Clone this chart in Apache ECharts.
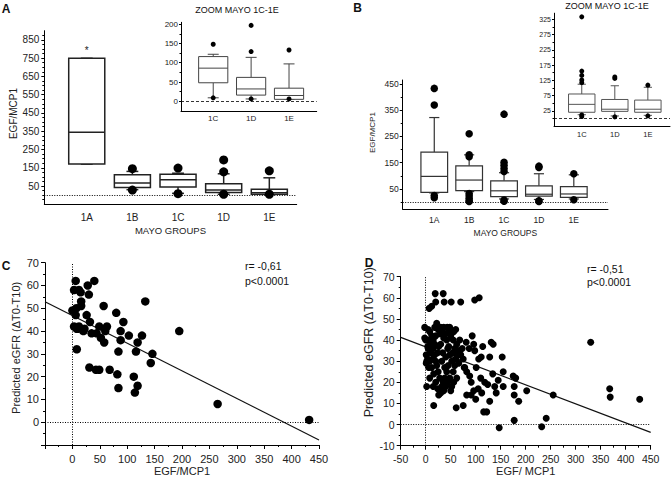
<!DOCTYPE html>
<html><head><meta charset="utf-8">
<script src="https://cdn.jsdelivr.net/npm/echarts@6/dist/echarts.min.js"></script>
<style>html,body{margin:0;padding:0;background:#fff}#c{width:671px;height:480px}</style>
</head><body><div id="c"></div>
<script>
const FONT = "'Liberation Sans', Arial, Helvetica, sans-serif";
const groups = ['1A','1B','1C','1D','1E'];
const zoomGroups = ['1C','1D','1E'];

// Box data: [group position, lower whisker, Q1, median, Q3, upper whisker]
const boxA = [
  [1, 170, 170, 344, 749, 749],
  [2, 30, 42, 66, 112, 130],
  [3, 10, 45, 84, 114, 120],
  [4, 5, 15, 28, 62, 117],
  [5, 4, 5, 13, 33, 95]
];
const outA = [[2,145],[2,28],[3,148],[3,8],[4,193],[4,128],[4,5],[5,133],[5,5]];
const starA = [[1, 790]];
const ticksAy = [50,150,250,350,450,550,650,750,850];
const minorAy = [-25,0,25,75,100,125,175,200,225,275,300,325,375,400,425,475,500,525,575,600,625,675,700,725,775,800,825,875];

const boxAz = [
  [1, 9, 48, 86, 116, 122],
  [2, 6, 16, 32, 62, 114],
  [3, 5, 5, 15, 34, 97]
];
const outAz = [[1,148],[1,9],[2,197],[2,129],[2,6],[3,133],[3,6]];
const ticksAzy = [0,50,100,150,200];
const minorAzy = [25,75,125,175];

const boxB = [
  [1, 35, 37, 98, 190, 322],
  [2, 40, 44, 84, 138, 180],
  [3, 12, 21, 43, 81, 112],
  [4, 10, 23, 30, 62, 108],
  [5, 12, 18, 31, 59, 104]
];
const outB = [[1,433],[1,370],[1,25],[1,17],[2,260],[2,180],[2,173],[2,33],[2,24],[2,15],[2,5],[2,2],
  [3,335],[3,152],[3,140],[3,128],[3,117],[3,8],[3,3],[4,137],[4,132],[4,5],[4,2],[5,108],[5,9]];
const ticksBy = [50,150,250,350,450];
const minorBy = [0,100,200,300,400];

const boxBz = [
  [1, 12, 20, 46, 80, 112],
  [2, 8, 23, 30, 62, 107],
  [3, 10, 20, 30, 60, 102]
];
const outBz = [[1,333],[1,155],[1,141],[1,126],[1,117],[1,11],[1,6],[2,136],[2,131],[2,5],[3,109],[3,8]];
const ticksBzy = [25,75,125,175,225,275,325];
const minorBzy = [0,50,100,150,200,250,300];

// Panel C scatter: [EGF/MCP1, predicted eGFR]
const scatterC = [
  [6,62],[3,58],[12,58],[15,57],[28,60],[40,62],[30,56],[16,53],[0,49],[7,50],[16,51],[6,47],
  [3,42],[8,41],[12,42],[22,41],[26,47],[32,44],[35,39],[44,39],[49,42],[52,37],[57,51],[58,35],
  [60,40],[63,42],[8,32],[31,24],[43,23],[49,23],[68,23],[82,21],[84,15],[84,31],[80,48],[88,40],
  [88,36],[93,44],[103,38],[112,20],[114,13],[116,31],[119,16],[119,35],[127,38],[133,53],[143,26],
  [146,30],[195,40],[265,8],[432,1],[20,40],[10,41]
];
const regC = [[-50, 52.9], [450, -7.8]];

// Panel D scatter
const scatterD = [
  [19,62],[20,58],[35,62],[37,58],[51,58],[70,58],[98,59],[107,60],[7,55],[12,56],
  [-2,46],[-2,41],[4,37],[1,29],[4,31],[2,18],[15,18],[16,9],[61,8],[75,9],
  [82,14],[91,14],[96,16],[100,12],[112,15],[116,6],[122,6],[128,11],[128,32],[147,-1.5],
  [177,2],[232,-1],[241,3],[202,16],[255,14],[330,39],[368,17],[369,13],[428,12],[155,25],
  [153,32],[175,23],[177,18],[177,14],[180,22],[186,11],[155,18],[141,15],[145,21],[134,24],
  [124,19],[131,39],[135,38],[114,37],[111,32],[106,31],[101,27],[98,35],[96,38],[93,42],
  [87,36],[81,39],[73,36],[77,27],[82,25],[88,23],[91,20],[105,17],[110,22],[118,20],[138,18],
  [5,45],[8,44],[12,42],[15,40],[18,46],[22,48],[25,45],[28,43],[30,46],[33,44],[36,41],[40,43],
  [43,46],[46,44],[50,42],[55,40],[58,36],[62,38],[65,35],[68,40],[48,33],[52,30],[45,28],[42,25],
  [38,22],[35,20],[32,18],[30,15],[28,22],[25,25],[22,28],[20,30],[18,33],[15,36],[10,38],[8,30],
  [12,27],[16,24],[20,20],[24,17],[26,14],[36,16],[40,18],[44,20],[48,22],[52,18],[55,25],[58,28],
  [60,31],[63,33],[66,29],[70,33],[75,31],[78,27],[62,22],[56,20],[50,16],[10,34],[5,36],[3,40],
  [1,33],[6,27],[14,31],[24,34],[32,30],[40,32],[44,36],[30,38],[20,42],[26,37],[34,34],[38,27],
  [46,37],[54,34],[18,38],[8,22],[36,46],[42,40],[48,46],[56,44],[60,45],[2,30],[0,40]
];
const regD = [[-50, 41.3], [450, -3.7]];

function boxRenderer(boxW, capW, lineW, color) {
  return function (params, api) {
    const x = api.value(0);
    const pLo = api.coord([x, api.value(1)]);
    const pQ1 = api.coord([x, api.value(2)]);
    const pMd = api.coord([x, api.value(3)]);
    const pQ3 = api.coord([x, api.value(4)]);
    const pHi = api.coord([x, api.value(5)]);
    const hw = api.size([boxW, 0])[0] / 2;
    const hc = api.size([capW, 0])[0] / 2;
    const cx = pMd[0];
    const st = {stroke: color, lineWidth: lineW, fill: null};
    return {type: 'group', children: [
      {type: 'line', shape: {x1: cx, y1: pQ3[1], x2: cx, y2: pHi[1]}, style: st},
      {type: 'line', shape: {x1: cx - hc, y1: pHi[1], x2: cx + hc, y2: pHi[1]}, style: st},
      {type: 'line', shape: {x1: cx, y1: pQ1[1], x2: cx, y2: pLo[1]}, style: st},
      {type: 'line', shape: {x1: cx - hc, y1: pLo[1], x2: cx + hc, y2: pLo[1]}, style: st},
      {type: 'rect', shape: {x: cx - hw, y: pQ3[1], width: 2 * hw, height: pQ1[1] - pQ3[1]}, style: {fill: '#fff', stroke: color, lineWidth: lineW}},
      {type: 'line', shape: {x1: cx - hw, y1: pMd[1], x2: cx + hw, y2: pMd[1]}, style: st}
    ]};
  };
}

const grids = [
  {left: 44.3, top: 30.7, width: 252.4, height: 173.6},
  {left: 181, top: 22.3, width: 135.7, height: 88.6},
  {left: 402.7, top: 80, width: 205.3, height: 129.2},
  {left: 554, top: 13.2, width: 116, height: 112.8},
  {left: 45, top: 262.7, width: 274, height: 182.3},
  {left: 400.7, top: 276.7, width: 250, height: 169}
].map(g => Object.assign({outerBoundsMode: 'none', containLabel: false}, g));

const lineBlack = {show: true, onZero: false, lineStyle: {color: '#000', width: 1}};

function catX(grid, min, max, cats, fontSize, margin, name, nameSize, nameGap) {
  return {
    type: 'value', gridIndex: grid, min: min, max: max, position: 'bottom',
    axisLine: lineBlack, axisTick: {show: false}, splitLine: {show: false},
    axisLabel: {customValues: cats.map((c, i) => i + 1), formatter: v => cats[v - 1] || '',
      fontSize: fontSize, color: '#222', margin: margin, fontFamily: FONT},
    name: name || '', nameLocation: 'middle', nameGap: nameGap || 0,
    nameTextStyle: {fontSize: nameSize || 10, color: '#222', fontFamily: FONT}
  };
}
function valY(grid, min, max, ticks, fontSize, margin, tickLen, name, nameSize, nameGap, namePad) {
  return {
    type: 'value', gridIndex: grid, min: min, max: max, position: 'left',
    axisLine: lineBlack, splitLine: {show: false},
    axisTick: {show: true, customValues: ticks, length: tickLen, lineStyle: {color: '#000'}},
    axisLabel: {customValues: ticks, fontSize: fontSize, color: '#222', margin: margin, fontFamily: FONT},
    name: name || '', nameLocation: 'middle', nameGap: nameGap || 0,
    nameTextStyle: {fontSize: nameSize || 10, color: '#222', fontFamily: FONT, padding: [0, 0, 0, namePad || 0]}
  };
}
function minorY(grid, min, max, ticks, tickLen) {
  return {
    type: 'value', gridIndex: grid, min: min, max: max, position: 'left', offset: 0,
    axisLine: {show: false, onZero: false}, splitLine: {show: false},
    axisTick: {show: true, customValues: ticks, length: tickLen, lineStyle: {color: '#000'}},
    axisLabel: {show: false}
  };
}

const xAxes = [
  catX(0, 0.07, 5.6, groups, 10, 8, 'MAYO GROUPS', 9.5, 21),
  catX(1, 0.15, 3.73, zoomGroups, 8, 4),
  catX(2, 0.095, 5.98, groups, 8.5, 6, 'MAYO GROUPS', 8.5, 19),
  catX(3, 0.16, 3.67, zoomGroups, 7.5, 4),
  {type: 'value', gridIndex: 4, min: -50, max: 450, interval: 50, position: 'bottom',
   axisLine: lineBlack, splitLine: {show: false},
   axisTick: {show: true, length: 4, lineStyle: {color: '#000'}},
   minorTick: {show: true, splitNumber: 2, length: 2, lineStyle: {color: '#000'}},
   axisLabel: {formatter: v => v === -50 ? '' : v, fontSize: 11, color: '#222', margin: 8, fontFamily: FONT},
   name: 'EGF/MCP1', nameLocation: 'middle', nameGap: 20,
   nameTextStyle: {fontSize: 11, color: '#222', fontFamily: FONT}},
  {type: 'value', gridIndex: 5, min: -50, max: 450, interval: 50, position: 'bottom',
   axisLine: lineBlack, splitLine: {show: false},
   axisTick: {show: true, length: 4, lineStyle: {color: '#000'}},
   minorTick: {show: true, splitNumber: 2, length: 2, lineStyle: {color: '#000'}},
   axisLabel: {fontSize: 10.5, color: '#222', margin: 8, fontFamily: FONT},
   name: 'EGF/ MCP1', nameLocation: 'middle', nameGap: 20,
   nameTextStyle: {fontSize: 11, color: '#222', fontFamily: FONT}}
];

const yAxes = [
  valY(0, -50, 900, ticksAy, 10, 5, 3, 'EGF/MCP1', 10, 25, 8),   // 0
  minorY(0, -50, 900, minorAy, 2),                                // 1
  valY(1, -25, 205, ticksAzy, 8, 3, 2),                           // 2
  minorY(1, -25, 205, minorAzy, 1.5),                             // 3
  valY(2, -27, 465, ticksBy, 8.5, 4, 3, 'EGF/MCP1', 8, 26, 24),   // 4
  minorY(2, -27, 465, minorBy, 2),                                // 5
  valY(3, -25, 345, ticksBzy, 7, 3, 2),                           // 6
  minorY(3, -25, 345, minorBzy, 1.5),                             // 7
  {type: 'value', gridIndex: 4, min: -10, max: 70, interval: 10, position: 'left',   // 8
   axisLine: lineBlack, splitLine: {show: false},
   axisTick: {show: true, length: 4, lineStyle: {color: '#000'}},
   minorTick: {show: true, splitNumber: 2, length: 2, lineStyle: {color: '#000'}},
   axisLabel: {formatter: v => v === -10 ? '' : v, fontSize: 11, color: '#222', margin: 6, fontFamily: FONT},
   name: 'Predicted eGFR (\u0394T0-T10)', nameLocation: 'middle', nameGap: 24,
   nameTextStyle: {fontSize: 11, color: '#222', fontFamily: FONT, padding: [0, 0, 0, 12]}},
  {type: 'value', gridIndex: 5, min: -10, max: 70, interval: 10, position: 'left',   // 9
   axisLine: lineBlack, splitLine: {show: false},
   axisTick: {show: true, length: 4, lineStyle: {color: '#000'}},
   minorTick: {show: true, splitNumber: 2, length: 2, lineStyle: {color: '#000'}},
   axisLabel: {fontSize: 10.5, color: '#222', margin: 6, fontFamily: FONT},
   name: 'Predicted eGFR (\u0394T0-T10)', nameLocation: 'middle', nameGap: 25,
   nameTextStyle: {fontSize: 12.5, color: '#222', fontFamily: FONT, padding: [0, 0, 0, 38]}}
];

function zeroLine(dash, width) {
  return {silent: true, symbol: 'none', label: {show: false}, animation: false,
    lineStyle: {color: '#000', width: width, type: dash}, data: [{yAxis: 0}]};
}
const dot = {color: '#000', opacity: 1};

const series = [
  // Panel A main
  {type: 'custom', xAxisIndex: 0, yAxisIndex: 0, renderItem: boxRenderer(0.79, 0.26, 1.5, '#222'), data: boxA, z: 3},
  {type: 'scatter', xAxisIndex: 0, yAxisIndex: 0, data: outA, symbolSize: 9, itemStyle: dot, z: 4,
   markLine: zeroLine([1, 1.5], 1.2)},
  {type: 'custom', xAxisIndex: 0, yAxisIndex: 0, data: starA, z: 4,
   renderItem: (p, api) => { const c = api.coord([api.value(0), api.value(1)]);
     return {type: 'text', x: c[0], y: c[1], style: {text: '*', fontSize: 10, fontFamily: FONT, fill: '#222', align: 'center', verticalAlign: 'middle'}}; }},
  // Panel A inset
  {type: 'custom', xAxisIndex: 1, yAxisIndex: 2, renderItem: boxRenderer(0.77, 0.29, 1, '#444'), data: boxAz, z: 3},
  {type: 'scatter', xAxisIndex: 1, yAxisIndex: 2, data: outAz, symbolSize: 5, itemStyle: dot, z: 4,
   markLine: zeroLine([3, 2], 0.8)},
  // Panel B main
  {type: 'custom', xAxisIndex: 2, yAxisIndex: 4, renderItem: boxRenderer(0.765, 0.29, 1.2, '#333'), data: boxB, z: 3},
  {type: 'scatter', xAxisIndex: 2, yAxisIndex: 4, data: outB, symbolSize: 7.5, itemStyle: dot, z: 4,
   markLine: zeroLine([1, 1.5], 1.1)},
  // Panel B inset
  {type: 'custom', xAxisIndex: 3, yAxisIndex: 6, renderItem: boxRenderer(0.8, 0.25, 1, '#555'), data: boxBz, z: 3},
  {type: 'scatter', xAxisIndex: 3, yAxisIndex: 6, data: outBz, symbolSize: 5, itemStyle: dot, z: 4,
   markLine: zeroLine([3, 2], 0.8)},
  // Panel C
  {type: 'scatter', xAxisIndex: 4, yAxisIndex: 8, data: scatterC, symbolSize: 8.5, itemStyle: dot, z: 4,
   markLine: {silent: true, symbol: 'none', label: {show: false}, lineStyle: {color: '#000', width: 1, type: [1, 1.5]},
     data: [{yAxis: 0}, {xAxis: 0}]}},
  {type: 'line', xAxisIndex: 4, yAxisIndex: 8, data: regC, symbol: 'none', lineStyle: {color: '#111', width: 1.2}, z: 3},
  // Panel D
  {type: 'scatter', xAxisIndex: 5, yAxisIndex: 9, data: scatterD, symbolSize: 7, itemStyle: dot, z: 4,
   markLine: {silent: true, symbol: 'none', label: {show: false}, lineStyle: {color: '#000', width: 1, type: [1, 1.5]},
     data: [{yAxis: 0}, {xAxis: 0}]}},
  {type: 'line', xAxisIndex: 5, yAxisIndex: 9, data: regD, symbol: 'none', lineStyle: {color: '#111', width: 1.2}, z: 3}
];

function txt(text, x, y, size, opts) {
  return Object.assign({type: 'text', x: x, y: y, silent: true,
    style: Object.assign({text: text, fontSize: size, fontFamily: FONT, fill: '#111', align: 'center', verticalAlign: 'middle'}, (opts || {}))});
}

const graphic = [
  txt('A', 6, 9, 12, {fontWeight: 'bold'}),
  txt('B', 357.5, 8, 12, {fontWeight: 'bold'}),
  txt('C', 6, 266, 12, {fontWeight: 'bold'}),
  txt('D', 369, 262.5, 12, {fontWeight: 'bold'}),
  txt('ZOOM MAYO 1C-1E', 237, 9.5, 9),
  txt('ZOOM MAYO 1C-1E', 607, 5.5, 9),
  txt('r= -0,61', 245, 266, 10.5, {align: 'left'}),
  txt('p<0.0001', 245, 281, 10.5, {align: 'left'}),
  txt('r= -0,51', 587, 268.5, 10.5, {align: 'left'}),
  txt('p<0.0001', 587, 282, 10.5, {align: 'left'})
];

const chart = echarts.init(document.getElementById('c'), null, {renderer: 'svg'});
chart.setOption({
  animation: false,
  backgroundColor: '#fff',
  grid: grids,
  xAxis: xAxes,
  yAxis: yAxes,
  series: series,
  graphic: graphic
});
</script>
</body></html>
